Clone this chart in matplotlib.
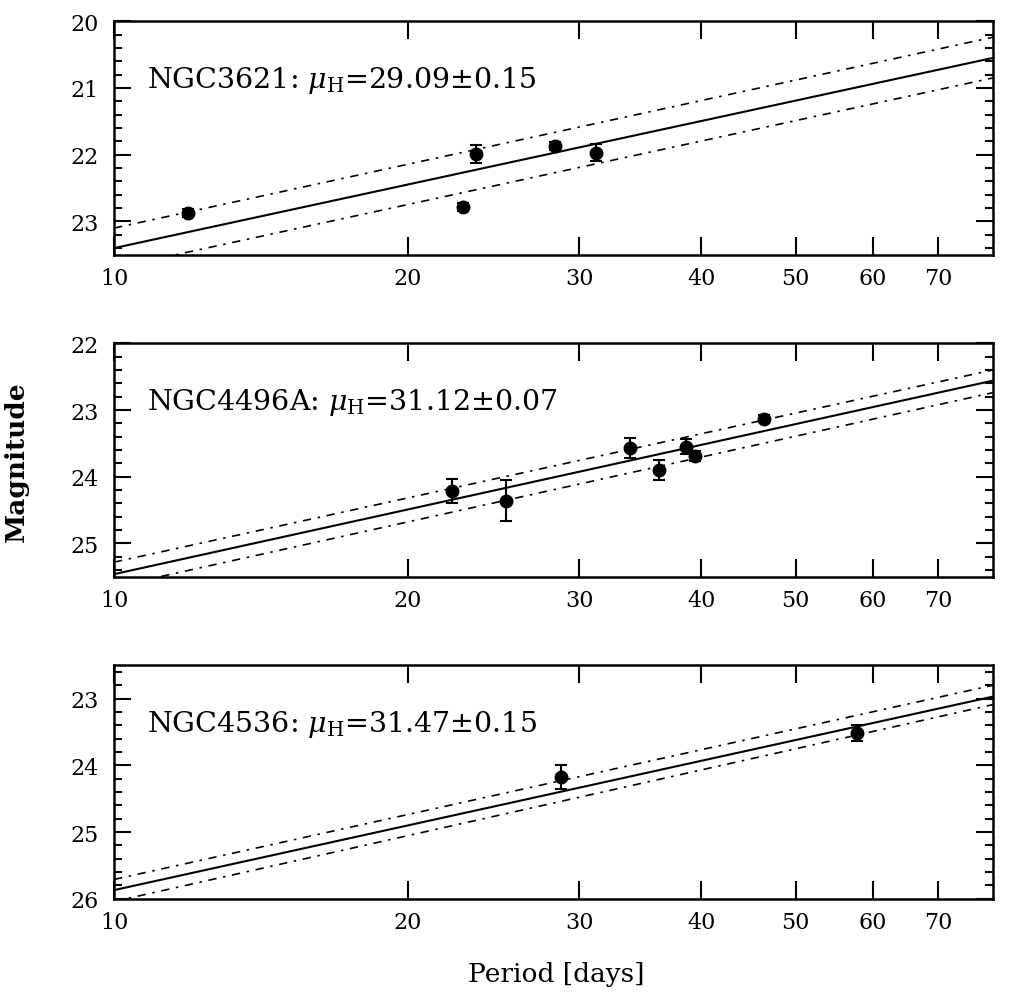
import numpy as np
import matplotlib
matplotlib.use("Agg")
import matplotlib.pyplot as plt
from matplotlib.ticker import FixedLocator, MultipleLocator, NullLocator

plt.rcParams['font.family'] = ['DejaVu Serif']
plt.rcParams['mathtext.fontset'] = 'dejavuserif'

# --- data ---
names = ["NGC3621", "NGC4496A", "NGC4536"]
mu_text = ["29.09\u00b10.15", "31.12\u00b10.07", "31.47\u00b10.15"]

p_3621 = [11.9, 22.8, 23.5, 28.3, 31.2]
m_3621 = [22.87, 22.79, 21.99, 21.87, 21.97]
e_3621 = [0.06, 0.06, 0.14, 0.06, 0.13]

p_4496 = [22.2, 25.2, 33.8, 36.2, 38.6, 39.4, 46.4]
m_4496 = [24.21, 24.36, 23.57, 23.90, 23.55, 23.69, 23.13]
e_4496 = [0.18, 0.31, 0.155, 0.145, 0.11, 0.07, 0.05]

p_4536 = [28.7, 57.8]
m_4536 = [24.17, 23.51]
e_4536 = [0.18, 0.12]

# fit lines: value at P=10 and at P=79.6 (right edge)
line_p = [10.0, 79.6]
fit_3621 = [23.40, 20.55]
up_3621 = [23.10, 20.24]
lo_3621 = [23.70, 20.85]
fit_4496 = [25.46, 22.56]
up_4496 = [25.28, 22.40]
lo_4496 = [25.65, 22.74]
fit_4536 = [25.87, 22.97]
up_4536 = [25.71, 22.80]
lo_4536 = [26.04, 23.09]

ylims = [(23.5, 20.0), (25.5, 22.0), (26.0, 22.5)]
xticks = [10, 20, 30, 40, 50, 60, 70]

panels = [
    (p_3621, m_3621, e_3621, fit_3621, up_3621, lo_3621),
    (p_4496, m_4496, e_4496, fit_4496, up_4496, lo_4496),
    (p_4536, m_4536, e_4536, fit_4536, up_4536, lo_4536),
]

fig = plt.figure(figsize=(10.11, 10.03), dpi=100)
bottoms = [0.7450, 0.4239, 0.1029]
dashdot = (0, (5, 4, 1.5, 4))

for i, (p, m, e, fit, up, lo) in enumerate(panels):
    ax = fig.add_axes([0.1128, bottoms[i], 0.8691, 0.2328])
    ax.set_xscale('log')
    ax.plot(line_p, fit, color='black', lw=1.5)
    ax.plot(line_p, up, color='black', lw=1.2, linestyle=dashdot)
    ax.plot(line_p, lo, color='black', lw=1.2, linestyle=dashdot)
    ax.errorbar(p, m, yerr=e, fmt='o', color='black', ms=9,
                elinewidth=1.5, capsize=4, capthick=1.5)
    ax.set_xlim(10, 79.6)
    ax.set_ylim(*ylims[i])

    ax.xaxis.set_major_locator(FixedLocator(xticks))
    ax.xaxis.set_major_formatter(matplotlib.ticker.FixedFormatter([str(t) for t in xticks]))
    ax.xaxis.set_minor_locator(NullLocator())
    ax.yaxis.set_major_locator(MultipleLocator(1))
    ax.yaxis.set_minor_locator(MultipleLocator(0.2))
    ax.yaxis.set_major_formatter(matplotlib.ticker.FormatStrFormatter('%d'))

    ax.tick_params(which='both', direction='in', top=True, right=True,
                   width=1.5, labelsize=16)
    ax.tick_params(axis='x', which='major', length=13, pad=9)
    ax.tick_params(axis='y', which='major', length=12, pad=11)
    ax.tick_params(axis='y', which='minor', length=6)
    for s in ax.spines.values():
        s.set_linewidth(1.8)

    ax.text(0.038, 0.72, names[i] + r": $\mu_{\rm H}$=" + mu_text[i],
            transform=ax.transAxes, fontsize=20.5,
            va='baseline', ha='left')

fig.text(0.016, 0.54, "Magnitude", rotation=90, fontsize=19,
         fontweight='bold', ha='center', va='center')
fig.text(0.55, 0.028, "Period [days]", fontsize=19, ha='center', va='center')

fig.savefig("out.png", dpi=100)
